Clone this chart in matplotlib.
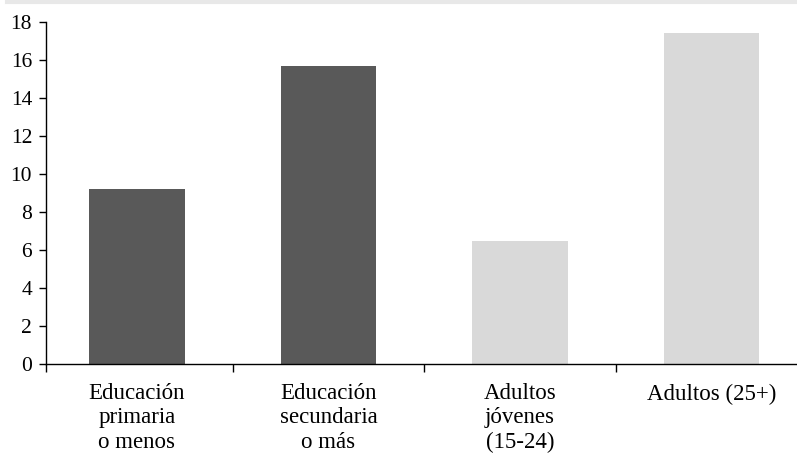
import numpy as np
import matplotlib
matplotlib.use("Agg")
import matplotlib.pyplot as plt
from matplotlib.lines import Line2D

# -------------------------------
# Data
# -------------------------------
categories = ["Educación\nprimaria\no menos",
              "Educación\nsecundaria\no más",
              "Adultos\njóvenes\n(15-24)",
              "Adultos (25+)"]
values = [9.2, 15.7, 6.5, 17.4]
colors = ["#595959", "#595959", "#d9d9d9", "#d9d9d9"]
yticks = [0, 2, 4, 6, 8, 10, 12, 14, 16, 18]

plt.rcParams['font.family'] = ['Liberation Serif', 'DejaVu Serif']

fig = plt.figure(figsize=(7.97, 4.54), dpi=100)
ax = fig.add_axes([46/797, 90/454, 751/797, 342/454])

x = np.arange(len(categories))
ax.bar(x, values, width=0.5, color=colors)

ax.set_xlim(-0.475, 3.446)
ax.set_ylim(0, 18)
ax.set_yticks(yticks)
ax.set_xticks(x)
ax.set_xticklabels(categories, linespacing=1.19, va="top")
ax.set_xticks([-0.475, 0.5, 1.5, 2.5], minor=True)

ax.tick_params(axis="x", which="major", length=0, pad=14, labelsize=16.5)
ax.tick_params(axis="x", which="minor", length=6, width=1, direction="out")
ax.tick_params(axis="y", length=5, width=1, pad=5, labelsize=15.5)

for s in ["top", "right"]:
    ax.spines[s].set_visible(False)
ax.spines["left"].set_linewidth(1)
ax.spines["bottom"].set_linewidth(1)

# faint rule along the top of the figure
fig.add_artist(Line2D([7/797, 1], [1 - 2/454, 1 - 2/454],
                      color="#e8e8e8", linewidth=3, transform=fig.transFigure))

fig.savefig("out.png", dpi=100)
